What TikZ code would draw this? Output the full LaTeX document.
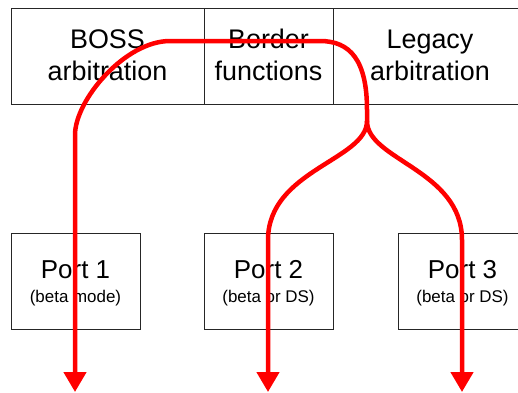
\documentclass[tikz,border=0pt]{standalone}
\usepackage{fontspec}
\setmainfont{Liberation Sans}
\usetikzlibrary{arrows.meta}
\begin{document}
\begin{tikzpicture}[x=1bp,y=-1bp,
  cell/.style={draw=black!85, line width=0.8bp, rectangle, inner sep=0pt, outer sep=0pt,
               anchor=north west, minimum height=96bp},
  big/.style={anchor=base, inner sep=0pt, font=\fontsize{27}{31}\selectfont},
  porttxt/.style={anchor=base, inner sep=0pt, font=\fontsize{26}{30}\selectfont},
  small/.style={anchor=base, inner sep=0pt, font=\fontsize{17}{20}\selectfont},
  flow/.style={draw=red, line width=4.5bp, line join=round,
               -{Triangle[width=22bp,length=20bp]}}]
\useasboundingbox (0,0) rectangle (518,392);
\clip (0,0) rectangle (518,392);
\fill[white] (0,0) rectangle (518,392);

% top row of functional blocks
\node[cell, minimum width=193bp] (boss)   at (11,8)  {};
\node[cell, minimum width=129bp] (border) at (204,8) {};
\node[cell, minimum width=194bp] (legacy) at (333,8) {};
\node[big] (bossA)   at (107.5,48) {BOSS};
\node[big] (bossB)   at (107.5,80) {arbitration};
\node[big] (borderA) at (268.5,48) {Border};
\node[big] (borderB) at (268.5,80) {functions};
\node[big] (legacyA) at (430,48)   {Legacy};
\node[big] (legacyB) at (430,80)   {arbitration};

% ports
\node[cell, minimum width=129bp] (port1) at (11,233)  {};
\node[cell, minimum width=129bp] (port2) at (204,233) {};
\node[cell, minimum width=129bp] (port3) at (398,233) {};
\node[porttxt] (p1a) at (75.5,278)  {Port 1};
\node[small]   (p1b) at (75.5,302)  {(beta mode)};
\node[porttxt] (p2a) at (268.5,278) {Port 2};
\node[small]   (p2b) at (268.5,302) {(beta or DS)};
\node[porttxt] (p3a) at (462.5,278) {Port 3};
\node[small]   (p3b) at (462.5,302) {(beta or DS)};

% traffic paths
\coordinate (split) at (367,121);
\coordinate (out1) at (75,392);
\coordinate (out2) at (268,392);
\coordinate (out3) at (462,392);
\draw[flow] (split) -- (367,110) .. controls (367,60) and (350,41) .. (320,41)
  -- (170,41) .. controls (125,41) and (75,100) .. (75,135) -- (out1);
\draw[flow] (split) .. controls (367,160) and (268,170) .. (268,240) -- (out2);
\draw[flow] (split) .. controls (367,160) and (462,170) .. (462,240) -- (out3);
\end{tikzpicture}
\end{document}
